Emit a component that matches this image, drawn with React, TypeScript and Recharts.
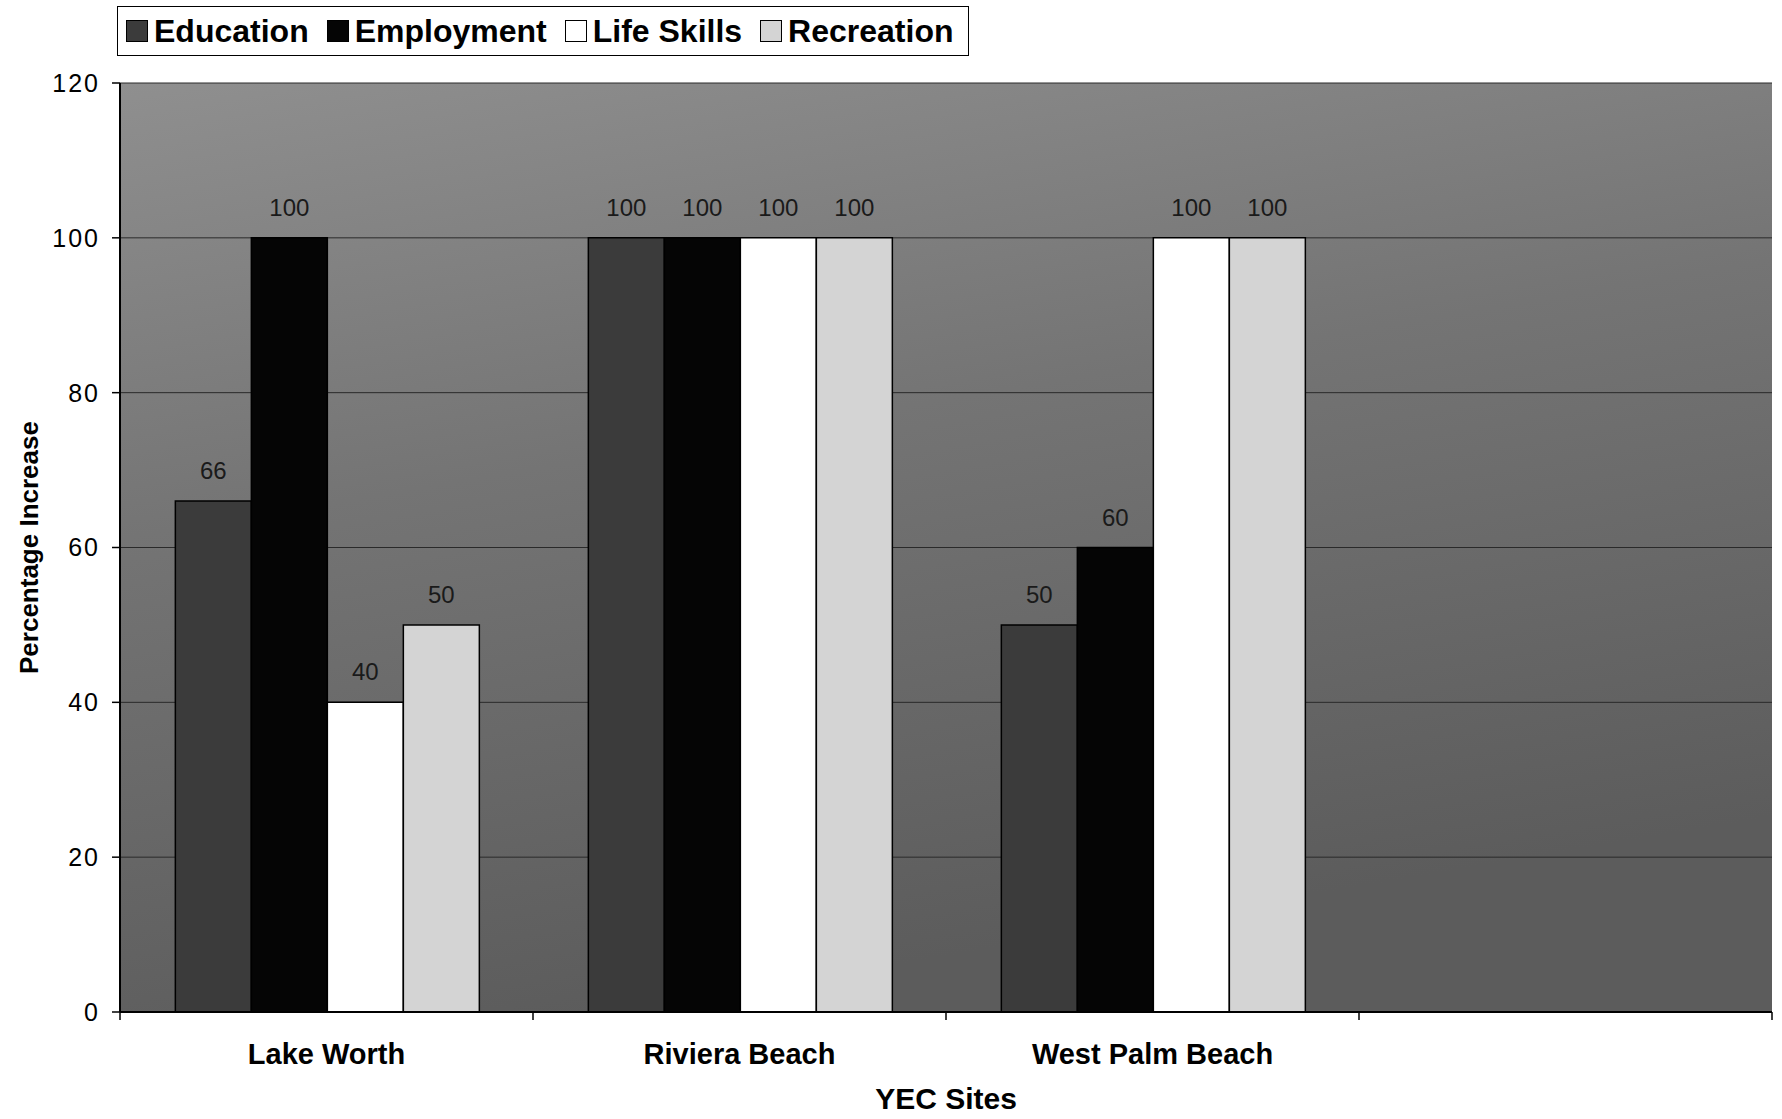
import React from 'react';
import { BarChart, Bar, XAxis, YAxis, CartesianGrid, Legend, LabelList, Label } from 'recharts';

const sites = ['Lake Worth', 'Riviera Beach', 'West Palm Beach', ''];
const education = [66, 100, 50, null];
const employment = [100, 100, 60, null];
const lifeSkills = [40, 100, 100, null];
const recreation = [50, 100, 100, null];
const yTicks = [0, 20, 40, 60, 80, 100, 120];
const seriesNames = ['Education', 'Employment', 'Life Skills', 'Recreation'];
const seriesColors = ['#3b3b3b', '#050505', '#ffffff', '#d4d4d4'];
const seriesValues = [education, employment, lifeSkills, recreation];

const data = sites.map((site, i) => {
  const row: any = { site };
  seriesNames.forEach((name, s) => {
    row[name] = seriesValues[s][i];
  });
  return row;
});

const FONT = '"Liberation Sans", Arial, sans-serif';

const SiteTick = (props: any) => {
  const { x, y, payload, index, visibleTicksCount, width } = props;
  const band = width / visibleTicksCount;
  const left = x - band / 2;
  const right = x + band / 2;
  return (
    <g>
      <line x1={left} x2={left} y1={y - 8} y2={y} stroke="#000" strokeWidth={1.5} />
      {index === visibleTicksCount - 1 && (
        <line x1={right} x2={right} y1={y - 8} y2={y} stroke="#000" strokeWidth={1.5} />
      )}
      <text x={x} y={y + 44} textAnchor="middle" fontFamily={FONT} fontWeight="bold" fontSize={29} fill="#000">
        {payload.value}
      </text>
    </g>
  );
};

const LegendBox = (props: any) => {
  const { payload } = props;
  return (
    <div
      style={{
        display: 'flex',
        alignItems: 'center',
        border: '1.5px solid #000',
        background: '#fff',
        height: 50,
        width: 852,
        boxSizing: 'border-box',
        padding: '0 8px',
        fontFamily: FONT,
        fontWeight: 'bold',
        fontSize: 32,
        color: '#000',
        whiteSpace: 'nowrap',
      }}
    >
      {(payload || []).map((entry: any, i: number) => (
        <div key={i} style={{ display: 'flex', alignItems: 'center', marginRight: 18 }}>
          <span
            style={{
              display: 'inline-block',
              width: 22,
              height: 22,
              background: entry.color,
              border: '1.5px solid #000',
              marginRight: 6,
              boxSizing: 'border-box',
            }}
          />
          <span>{entry.value}</span>
        </div>
      ))}
    </div>
  );
};

export default function App() {
  return (
    <div style={{ position: 'absolute', left: 0, top: 0, width: 1782, height: 1119, background: '#fff' }}>
      <BarChart
        width={1782}
        height={1119}
        data={data}
        margin={{ top: 83, right: 10, bottom: 0, left: 0 }}
        barCategoryGap="13.4%"
        barGap={0}
      >
        <defs>
          <linearGradient id="bgGrad" x1="0" y1="0" x2="0.3" y2="1">
            <stop offset="0%" stopColor="#8f8f8f" />
            <stop offset="45%" stopColor="#747474" />
            <stop offset="100%" stopColor="#5c5c5c" />
          </linearGradient>
        </defs>
        <CartesianGrid
          horizontal
          vertical={false}
          stroke="#2a2a2a"
          strokeWidth={1}
          fill="url(#bgGrad)"
          fillOpacity={1}
        />
        <XAxis
          dataKey="site"
          height={107}
          tickLine={false}
          tickSize={8}
          tickMargin={0}
          axisLine={{ stroke: '#000', strokeWidth: 2 }}
          tick={<SiteTick />}
          interval={0}
        >
          <Label
            content={(p: any) => {
              const vb = p.viewBox;
              return (
                <text
                  x={vb.x + vb.width / 2}
                  y={vb.y + 97}
                  textAnchor="middle"
                  fontFamily={FONT}
                  fontWeight="bold"
                  fontSize={30}
                  fill="#000"
                >
                  YEC Sites
                </text>
              );
            }}
          />
        </XAxis>
        <YAxis
          width={120}
          domain={[0, 120]}
          ticks={yTicks}
          tickSize={8}
          tickMargin={12}
          axisLine={{ stroke: '#000', strokeWidth: 2 }}
          tickLine={{ stroke: '#000', strokeWidth: 1.5 }}
          tick={{ fontFamily: FONT, fontSize: 25, fill: '#000', letterSpacing: 2 }}
        >
          <Label
            content={(p: any) => {
              const vb = p.viewBox;
              const cx = 38;
              const cy = vb.y + vb.height / 2;
              return (
                <text
                  x={cx}
                  y={cy}
                  transform={`rotate(-90 ${cx} ${cy})`}
                  textAnchor="middle"
                  fontFamily={FONT}
                  fontWeight="bold"
                  fontSize={26}
                  fill="#000"
                >
                  Percentage Increase
                </text>
              );
            }}
          />
        </YAxis>
        <Legend
          layout="horizontal"
          verticalAlign="middle"
          align="center"
          wrapperStyle={{ top: 6, left: 117, width: 'auto', height: 'auto' }}
          content={<LegendBox />}
        />
        {seriesNames.map((name, s) => (
          <Bar
            key={name}
            dataKey={name}
            fill={seriesColors[s]}
            stroke="#000"
            strokeWidth={1.5}
            isAnimationActive={false}
          >
            <LabelList
              dataKey={name}
              position="top"
              offset={22}
              style={{ fontFamily: FONT, fontSize: 24, fill: '#1a1a1a' }}
            />
          </Bar>
        ))}
      </BarChart>
    </div>
  );
}
